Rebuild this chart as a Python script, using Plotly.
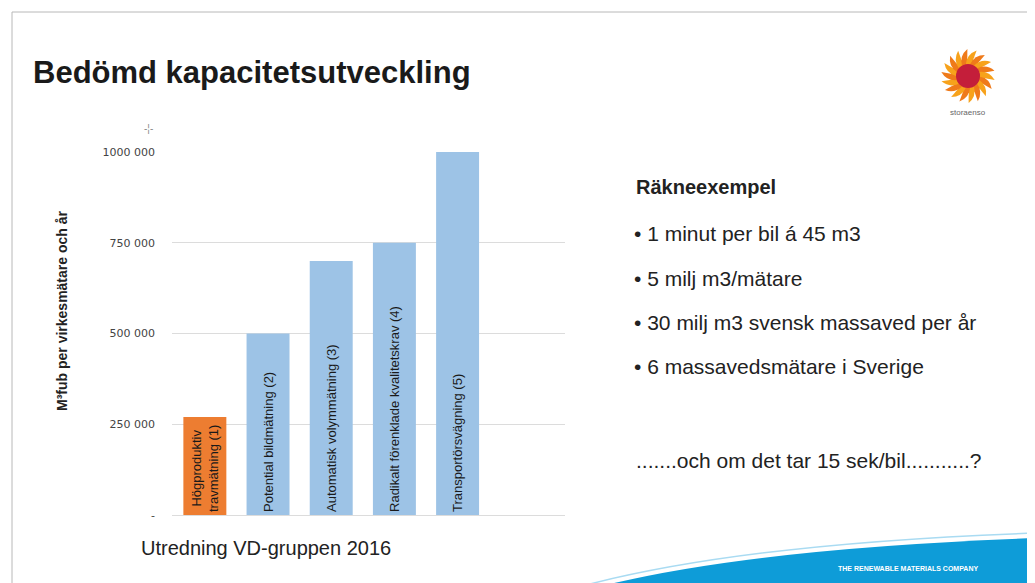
import math
import plotly.graph_objects as go

# ---- data ----
categories = [
    "Högproduktiv<br>travmätning (1)",
    "Potential bildmätning (2)",
    "Automatisk volymmätning (3)",
    "Radikalt förenklade kvalitetskrav (4)",
    "Transportörsvägning (5)",
]
values = [270000, 500000, 700000, 750000, 1000000]
bar_colors = ["#ED7D31", "#9DC3E6", "#9DC3E6", "#9DC3E6", "#9DC3E6"]
tick_vals = [0, 250000, 500000, 750000, 1000000]
tick_text = ["-", "250 000", "500 000", "750 000", "1000 000"]
bullets = [
    "• 1 minut per bil á 45 m3",
    "• 5 milj m3/mätare",
    "• 30 milj m3 svensk massaved per år",
    "• 6 massavedsmätare i Sverige",
]

OFF = 8  # page body margin
W, H = 1035 - OFF, 583 - OFF
L, R, T, B = 172, 565, 152, 515  # page pixel coords of plot area
FONT = "Liberation Sans, Arial, sans-serif"


def px(x):
    return (x - L) / (R - L)


def py(y):
    return (B - y) / (B - T)


fig = go.Figure()
fig.add_trace(go.Bar(
    x=list(range(len(values))),
    y=values,
    marker=dict(color=bar_colors, line=dict(width=0)),
    width=0.68,
    text=categories,
    textposition="inside",
    insidetextanchor="start",
    textangle=-90,
    textfont=dict(family=FONT, size=13, color="#1a1a1a"),
    constraintext="none",
    hoverinfo="skip",
))

shapes = []
annotations = []

# slide frame
shapes.append(dict(type="rect", xref="paper", yref="paper",
                   x0=px(12), x1=px(1045), y0=py(600), y1=py(12),
                   line=dict(color="#b8b8b8", width=1), layer="below"))

# blue swoosh
sw = (f"M {px(610)},{py(584)} Q {px(760)},{py(548)} {px(1036)},{py(538)} "
      f"L {px(1036)},{py(584)} Z")
shapes.append(dict(type="path", xref="paper", yref="paper", path=sw,
                   fillcolor="#0E9CD8", line=dict(width=0)))
sw2 = (f"M {px(590)},{py(584)} Q {px(750)},{py(543)} {px(1036)},{py(533)}")
shapes.append(dict(type="path", xref="paper", yref="paper", path=sw2,
                   line=dict(color="#a9dbf2", width=1.5)))

# logo (sunburst)
cx, cy = 968, 76
shapes.append(dict(type="circle", xref="paper", yref="paper",
                   x0=px(cx - 17), x1=px(cx + 17), y0=py(cy + 17), y1=py(cy - 17),
                   fillcolor="#F28C1E", line=dict(width=0)))
n = 18
for i in range(n):
    a = 2 * math.pi * i / n
    r0, r1 = 12, 27
    p1 = (cx + r0 * math.cos(a), cy + r0 * math.sin(a))
    p2 = (cx + r1 * math.cos(a + 0.5), cy + r1 * math.sin(a + 0.5))
    p3 = (cx + r0 * math.cos(a + 0.42), cy + r0 * math.sin(a + 0.42))
    c1 = (cx + 22 * math.cos(a + 0.12), cy + 22 * math.sin(a + 0.12))
    c2 = (cx + 18 * math.cos(a + 0.5), cy + 18 * math.sin(a + 0.5))
    path = (f"M {px(p1[0])},{py(p1[1])} Q {px(c1[0])},{py(c1[1])} {px(p2[0])},{py(p2[1])} "
            f"Q {px(c2[0])},{py(c2[1])} {px(p3[0])},{py(p3[1])} Z")
    shapes.append(dict(type="path", xref="paper", yref="paper", path=path,
                       fillcolor="#F7A21B" if i % 2 else "#EF7A1A",
                       line=dict(width=0)))
shapes.append(dict(type="circle", xref="paper", yref="paper",
                   x0=px(cx - 12), x1=px(cx + 12), y0=py(cy + 12), y1=py(cy - 12),
                   fillcolor="#C41E3A", line=dict(width=0)))
annotations.append(dict(xref="paper", yref="paper", x=px(968), y=py(113),
                        xanchor="center", yanchor="middle",
                        text="storaenso", showarrow=False,
                        font=dict(family=FONT, size=8, color="#666666")))

# title
annotations.append(dict(xref="paper", yref="paper", x=px(31), y=py(73),
                        xanchor="left", yanchor="middle",
                        text="<b>Bedömd kapacitetsutveckling</b>", showarrow=False,
                        font=dict(family=FONT, size=31, color="#1a1a1a")))

# small icon
annotations.append(dict(xref="paper", yref="paper", x=px(148), y=py(128),
                        xanchor="center", yanchor="middle",
                        text="-¦-", showarrow=False,
                        font=dict(family=FONT, size=10, color="#888888")))

# y-axis title
annotations.append(dict(xref="paper", yref="paper", x=px(62), y=py(311),
                        xanchor="center", yanchor="middle",
                        text="<b>M³fub per virkesmätare och år</b>", textangle=-90,
                        showarrow=False,
                        font=dict(family=FONT, size=14, color="#222222")))

# subtitle below chart
annotations.append(dict(xref="paper", yref="paper", x=px(139), y=py(548),
                        xanchor="left", yanchor="middle",
                        text="Utredning VD-gruppen 2016", showarrow=False,
                        font=dict(family=FONT, size=20, color="#222222")))

# right-hand text
annotations.append(dict(xref="paper", yref="paper", x=px(634), y=py(187),
                        xanchor="left", yanchor="middle",
                        text="<b>Räkneexempel</b>", showarrow=False,
                        font=dict(family=FONT, size=20, color="#222222")))
for b, yy in zip(bullets, [233, 278, 322, 366]):
    annotations.append(dict(xref="paper", yref="paper", x=px(632), y=py(yy),
                            xanchor="left", yanchor="middle",
                            text=b, showarrow=False,
                            font=dict(family=FONT, size=21, color="#222222")))
annotations.append(dict(xref="paper", yref="paper", x=px(634), y=py(460),
                        xanchor="left", yanchor="middle",
                        text=".......och om det tar 15 sek/bil...........?", showarrow=False,
                        font=dict(family=FONT, size=21, color="#222222")))

annotations.append(dict(xref="paper", yref="paper", x=px(908), y=py(568),
                        xanchor="center", yanchor="middle",
                        text="<b>THE RENEWABLE MATERIALS COMPANY</b>", showarrow=False,
                        font=dict(family=FONT, size=7, color="#ffffff")))

fig.update_layout(
    width=W, height=H,
    margin=dict(l=L - OFF, r=(W + OFF) - R, t=T - OFF, b=(H + OFF) - B, pad=0),
    paper_bgcolor="white", plot_bgcolor="white",
    showlegend=False,
    shapes=shapes,
    annotations=annotations,
    xaxis=dict(range=[-0.52, 5.7], showticklabels=False, showgrid=False,
               zeroline=False, showline=False, fixedrange=True),
    yaxis=dict(range=[0, 1000000], tickvals=tick_vals, ticktext=tick_text,
               showgrid=True, gridcolor="#dcdcdc", gridwidth=1,
               zeroline=True, zerolinecolor="#dcdcdc", zerolinewidth=1,
               showline=False, ticklabelstandoff=16,
               tickfont=dict(family="DejaVu Sans, sans-serif", size=11, color="#444444")),
)

fig.write_html("out.html")
